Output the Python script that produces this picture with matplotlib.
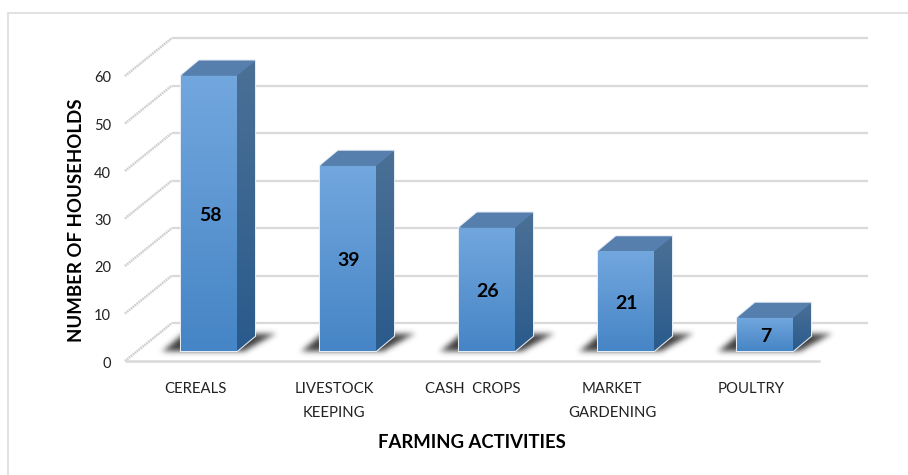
import matplotlib
matplotlib.use("Agg")
import matplotlib.pyplot as plt
import numpy as np
from matplotlib.colors import LinearSegmentedColormap
from matplotlib.patches import Polygon, Rectangle
from matplotlib.path import Path

plt.rcParams["font.family"] = ["Lato", "DejaVu Sans"]

CATEGORIES = ["CEREALS", "LIVESTOCK\nKEEPING", "CASH  CROPS", "MARKET\nGARDENING", "POULTRY"]
VALUES = [58, 39, 26, 21, 7]
TICKS = [0, 10, 20, 30, 40, 50, 60]

W, H = 908, 475
X0, PX_X = 209, 139   # pixel of first category, pixels per category
Y0, PX_Y = 351, 4.75  # pixel of value 0 on bar front, pixels per unit

DX = 1 / PX_X
DY = 1 / PX_Y
BAR_W = 56 * DX
DEPTH_X, DEPTH_Y = 18 * DX, 15 * DY

FRONT = LinearSegmentedColormap.from_list("front", ["#4685c6", "#72a7de"])
SIDE = LinearSegmentedColormap.from_list("side", ["#2a5b8c", "#4b7096"])
GRAD = np.linspace(1, 0, 64).reshape(-1, 1)


def px(x, y):
    """reference pixel -> data coords"""
    return (x - X0) * DX, (Y0 - y) * DY


def grad_poly(ax, pts, cmap, z):
    xs, ys = zip(*pts)
    im = ax.imshow(GRAD, cmap=cmap, aspect="auto", zorder=z, vmin=0, vmax=1,
                   extent=[min(xs), max(xs), min(ys), max(ys)])
    patch = Polygon(pts, closed=True, transform=ax.transData, fc="none", ec="none")
    ax.add_patch(patch)
    im.set_clip_path(patch)


def blur(a, sigma):
    r = int(sigma * 3)
    k = np.exp(-0.5 * (np.arange(-r, r + 1) / sigma) ** 2)
    k /= k.sum()
    a = np.apply_along_axis(lambda m: np.convolve(m, k, mode="same"), 0, a)
    return np.apply_along_axis(lambda m: np.convolve(m, k, mode="same"), 1, a)


def shadow(ax, i):
    # soft floor shadow, worked out in pixels around the bar then placed in data coords
    cx = X0 + i * PX_X
    xl, xr = cx - 28, cx + 28
    left, right, top, bottom = xl - 40, xr + 64, Y0 - 36, Y0 + 14
    shape = Path([(xl - 20, Y0 + 0.5), (xr + 8, Y0 + 0.5), (xr + 41, Y0 - 18), (xl + 2, Y0 - 18)])
    xx, yy = np.meshgrid(np.arange(left, right) + 0.5, np.arange(top, bottom) + 0.5)
    mask = shape.contains_points(np.c_[xx.ravel(), yy.ravel()]).reshape(xx.shape).astype(float)
    alpha = np.clip(blur(mask, 3.2), 0, 1) ** 1.4 * 0.85
    rgba = np.zeros(mask.shape + (4,))
    rgba[..., :3] = 0.1
    rgba[..., 3] = alpha
    x1, y1 = px(left, bottom)
    x2, y2 = px(right, top)
    ax.imshow(rgba, aspect="auto", zorder=3, extent=[x1, x2, y1, y2], interpolation="bilinear")


fig = plt.figure(figsize=(W / 100, H / 100), dpi=100)
ax = fig.add_axes([0, 0, 1, 1])
ax.set_xlim((0 - X0) * DX, (W - X0) * DX)
ax.set_ylim((Y0 - H) * DY, Y0 * DY)
ax.axis("off")

# chart frame, runs off the right and bottom of the picture
xa, ya = px(8.5, 13)
xb, yb = px(W + 5, H + 5)
ax.add_patch(Rectangle((xa, yb), xb - xa, ya - yb, fc="white", ec="#dcdcdc", lw=1.2, zorder=0))

# back wall gridlines and side wall diagonals
for t in TICKS:
    yb_px = 323 - t * PX_Y
    yf_px = 361 - t * PX_Y
    ax.plot(*zip(px(172, yb_px), px(868, yb_px)), color="#d9d9d9", lw=1.6, zorder=1,
            solid_capstyle="butt")
    ax.plot(*zip(px(125, yf_px), px(172, yb_px)), color="#cfcfcf", lw=1.8, zorder=1,
            ls=(0, (0.7, 0.3)))
    x, y = px(111, yf_px + 2.5)
    ax.text(x, y, str(t), ha="right", va="center", fontsize=10.5, color="#222222")

# floor front edge
ax.plot(*zip(px(125, 361), px(820, 361)), color="#d9d9d9", lw=1.8, zorder=1,
        solid_capstyle="butt")

for i, (cat, v) in enumerate(zip(CATEGORIES, VALUES)):
    xl, xr = i - BAR_W / 2, i + BAR_W / 2
    shadow(ax, i)
    # pale halo that hides gridlines behind the bar
    ax.add_patch(Polygon([(xl, v), (xl + DEPTH_X, v + DEPTH_Y), (xr + DEPTH_X, v + DEPTH_Y),
                          (xr + DEPTH_X, DEPTH_Y), (xr, 0), (xl, 0)],
                         closed=True, fc="#5b8fc4", ec="#e6ecf3", lw=1.5, zorder=4))
    grad_poly(ax, [(xr, 0), (xr + DEPTH_X, DEPTH_Y), (xr + DEPTH_X, v + DEPTH_Y), (xr, v)], SIDE, 5)
    ax.add_patch(Polygon([(xl, v), (xl + DEPTH_X, v + DEPTH_Y), (xr + DEPTH_X, v + DEPTH_Y), (xr, v)],
                         closed=True, fc="#577fae", ec="none", zorder=5))
    grad_poly(ax, [(xl, 0), (xr, 0), (xr, v), (xl, v)], FRONT, 6)
    ax.text(i + 1 * DX, v / 2 - 2 * DY, str(v), ha="center", va="center", fontsize=14,
            fontweight="bold", color="black", zorder=7)
    x, y = px(0, 382)
    ax.text(i - 14 * DX, y, cat, ha="center", va="top", fontsize=10.7,
            color="#222222", linespacing=1.9, zorder=7)

x, y = px(472, 443)
ax.text(x, y, "FARMING ACTIVITIES", ha="center", va="center", fontsize=13.3,
        fontweight="bold", color="black")
x, y = px(77, 220)
ax.text(x, y, "NUMBER OF HOUSEHOLDS", ha="center", va="center", rotation=90, fontsize=13.4,
        fontweight="bold", color="black")

ax.set_xlim((0 - X0) * DX, (W - X0) * DX)
ax.set_ylim((Y0 - H) * DY, Y0 * DY)
fig.savefig("out.png", dpi=100)
